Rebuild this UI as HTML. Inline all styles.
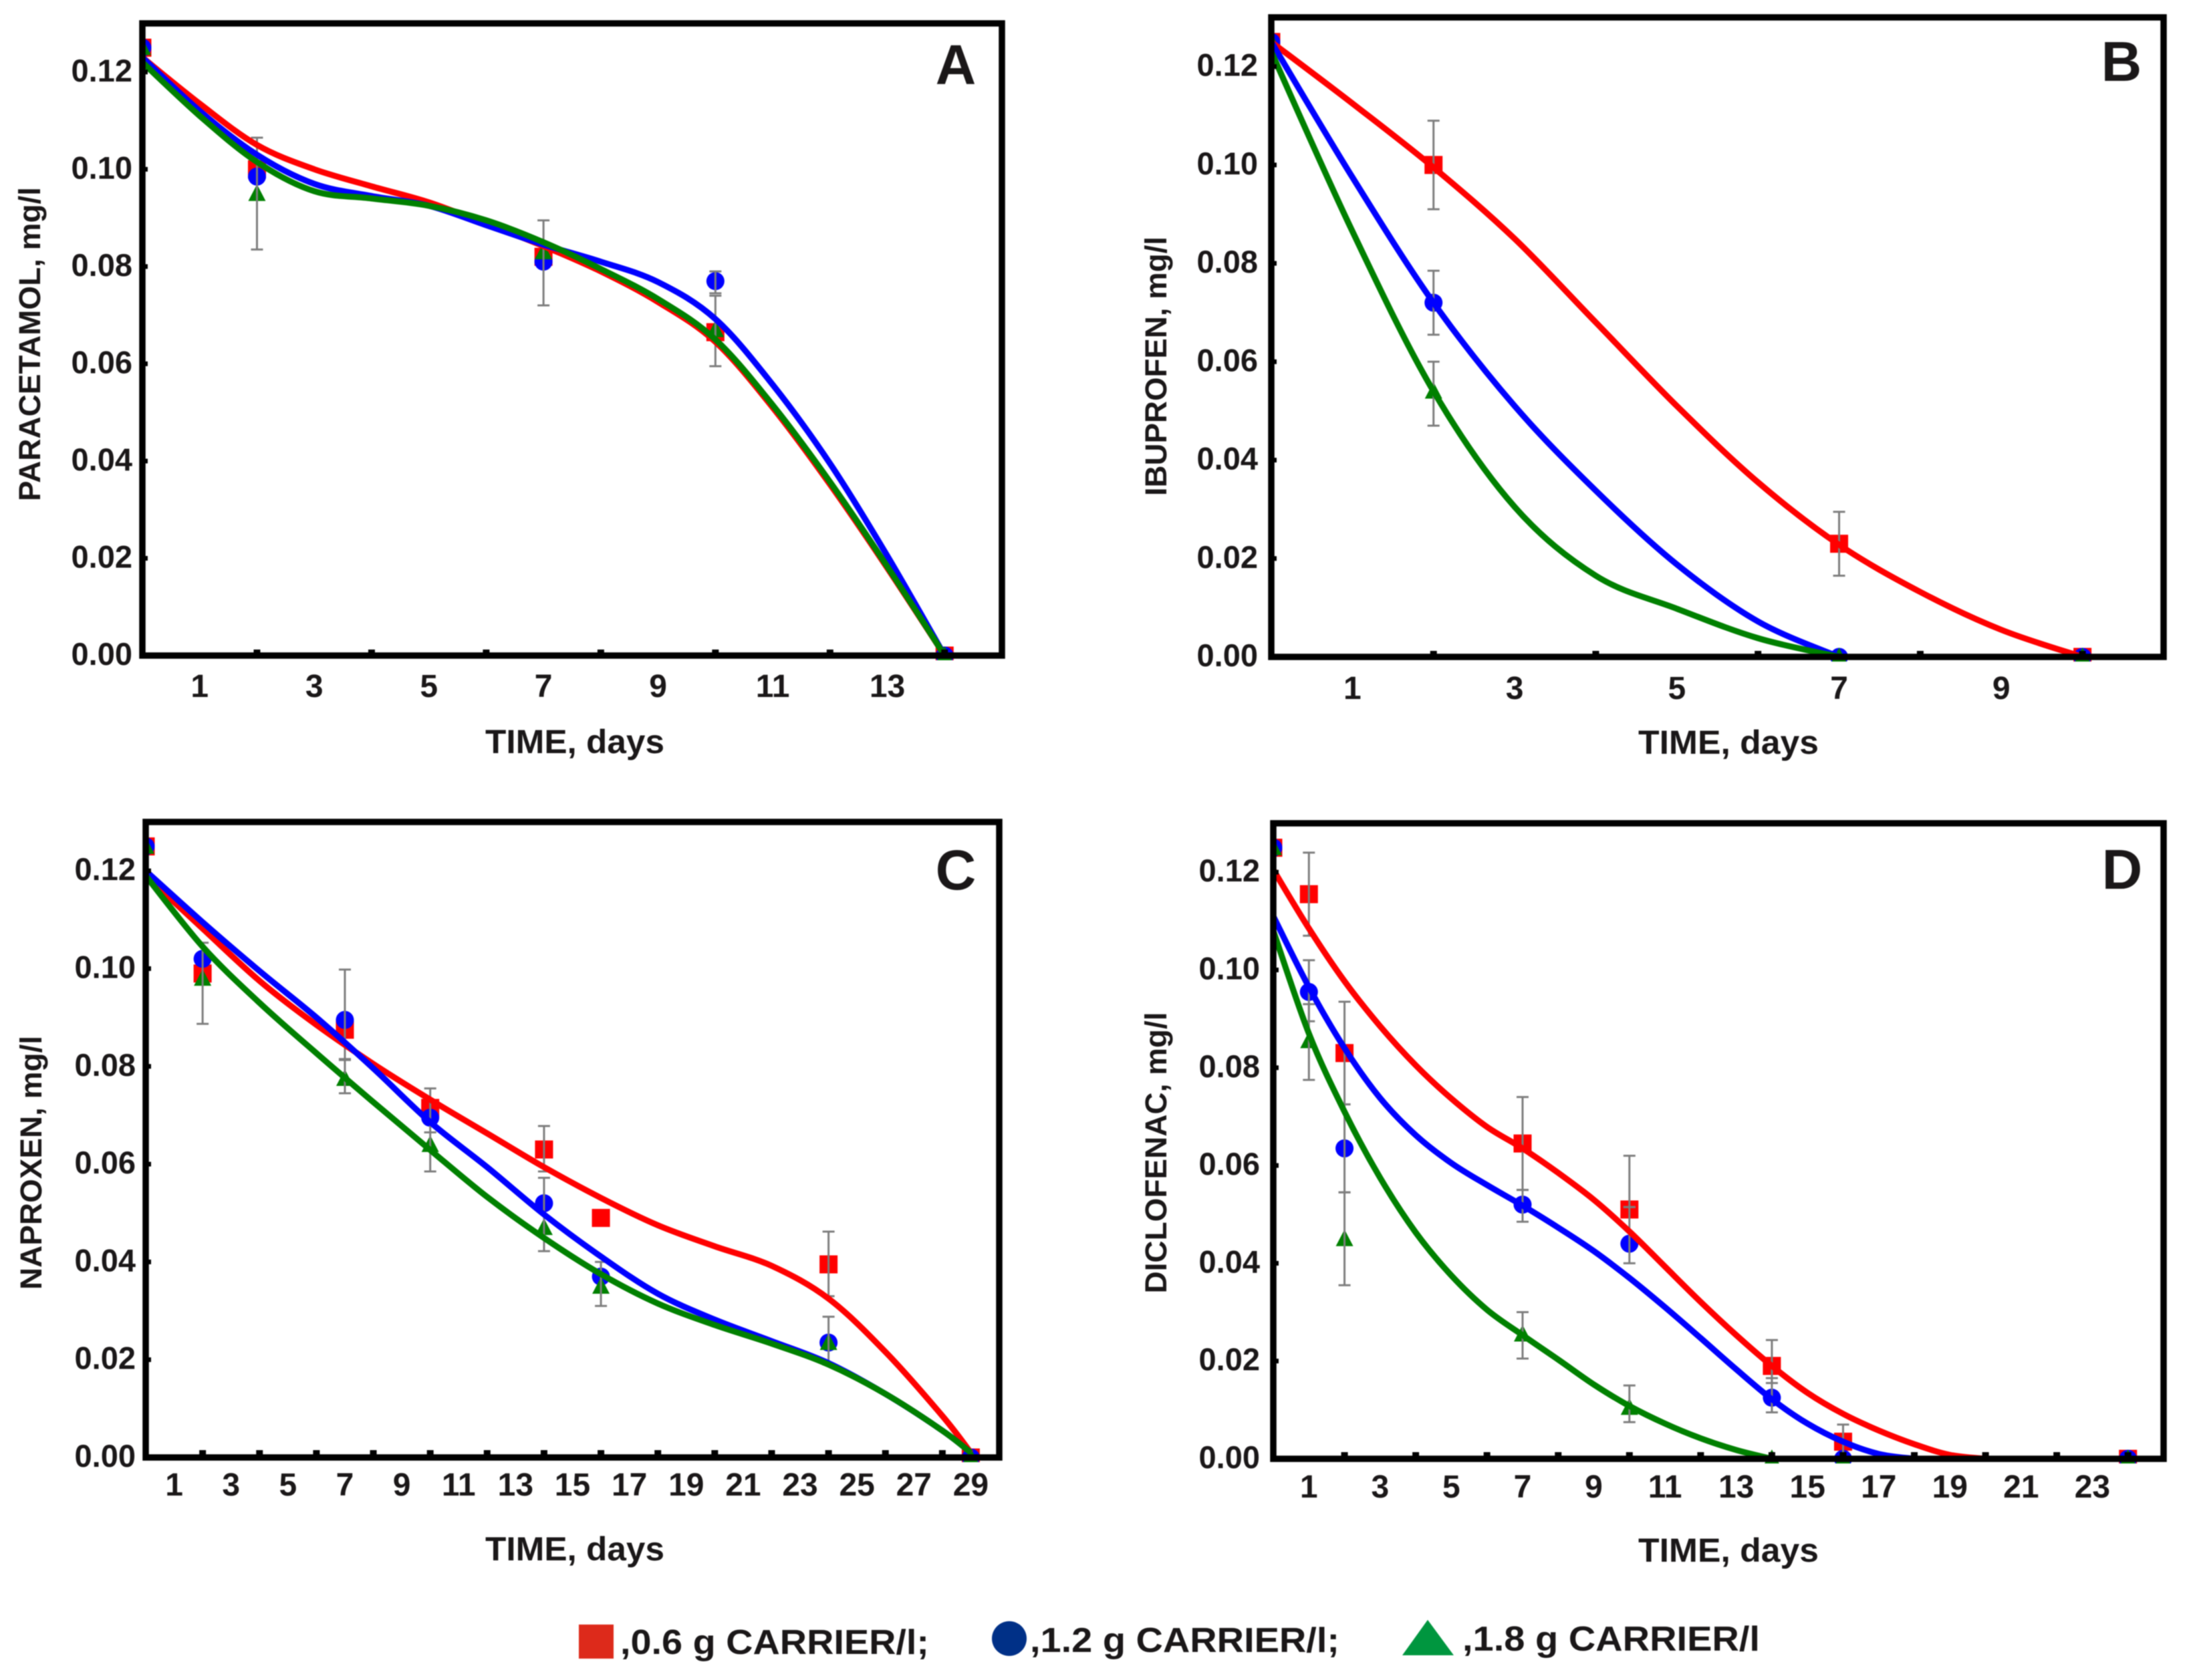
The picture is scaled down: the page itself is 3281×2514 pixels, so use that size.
<!DOCTYPE html>
<html lang="en">
<head>
<meta charset="utf-8">
<title>Concentration over time for four drugs</title>
<style>
html,body{margin:0;padding:0;background:#fff;}
svg{display:block;filter:blur(0.7px);}
text{font-family:"Liberation Sans",Arial,sans-serif;font-weight:bold;fill:#1a1718;}
</style>
</head>
<body>
<svg id="figure" xmlns="http://www.w3.org/2000/svg" width="3281" height="2514" viewBox="0 0 3281 2514">
  <rect x="0" y="0" width="3281" height="2514" fill="#ffffff"/>
  <g id="panel-a"></g>
  <g id="panel-b"></g>
  <g id="panel-c"></g>
  <g id="panel-d"></g>

  <text x="1430" y="126" font-size="84" text-anchor="middle">A</text>
  <text x="3174" y="121" font-size="84" text-anchor="middle">B</text>
  <text x="1430" y="1331" font-size="84" text-anchor="middle">C</text>
  <text x="3175" y="1330" font-size="84" text-anchor="middle">D</text>

  <text x="860" y="1127" font-size="50" text-anchor="middle" textLength="268" lengthAdjust="spacingAndGlyphs">TIME, days</text>
  <text x="2586" y="1128" font-size="50" text-anchor="middle" textLength="270" lengthAdjust="spacingAndGlyphs">TIME, days</text>
  <text x="860" y="2335" font-size="50" text-anchor="middle" textLength="268" lengthAdjust="spacingAndGlyphs">TIME, days</text>
  <text x="2586" y="2337" font-size="50" text-anchor="middle" textLength="270" lengthAdjust="spacingAndGlyphs">TIME, days</text>

  <text transform="translate(60 515) rotate(-90)" font-size="45.5" text-anchor="middle" textLength="470" lengthAdjust="spacingAndGlyphs">PARACETAMOL, mg/l</text>
  <text transform="translate(1745 548) rotate(-90)" font-size="45.5" text-anchor="middle" textLength="388" lengthAdjust="spacingAndGlyphs">IBUPROFEN, mg/l</text>
  <text transform="translate(62 1740) rotate(-90)" font-size="45.5" text-anchor="middle" textLength="380" lengthAdjust="spacingAndGlyphs">NAPROXEN, mg/l</text>
  <text transform="translate(1745 1725) rotate(-90)" font-size="45.5" text-anchor="middle" textLength="421" lengthAdjust="spacingAndGlyphs">DICLOFENAC, mg/l</text>

  <g>
    <rect x="866" y="2431" width="52" height="51" fill="#dd2a1b"/>
    <text x="928" y="2475" font-size="52" textLength="462" lengthAdjust="spacingAndGlyphs">,0.6 g CARRIER/l;</text>
    <ellipse cx="1510" cy="2452" rx="26" ry="26" fill="#003087"/>
    <text x="1541" y="2472" font-size="52" textLength="463" lengthAdjust="spacingAndGlyphs">,1.2 g CARRIER/l;</text>
    <polygon points="2136,2424 2175,2477 2098,2477" fill="#00963f"/>
    <text x="2188" y="2470" font-size="52" textLength="445" lengthAdjust="spacingAndGlyphs">,1.8 g CARRIER/l</text>
  </g>
</svg>

<script>
/* Shared y axis */
const yTickValues = [0, 0.02, 0.04, 0.06, 0.08, 0.10, 0.12];
const yTickLabels = ["0.00", "0.02", "0.04", "0.06", "0.08", "0.10", "0.12"];

/* Panel A: paracetamol */
const aXLabels = [1, 3, 5, 7, 9, 11, 13];
const aXMinor = [2, 4, 6, 8, 10, 12, 14];
const aMarkerDays = [0, 2, 7, 10, 14];
const aRedPoints = [0.125, 0.1, 0.082, 0.0665, 0];
const aBluePoints = [0.125, 0.0985, 0.081, 0.077, 0];
const aGreenPoints = [0.125, 0.095, 0.083, 0.067, 0];
const aCurveDays = [0, 1, 2, 3, 4, 5, 6, 7, 8, 9, 10, 11, 12, 13, 14];
const aRedCurve = [0.123, 0.1135, 0.105, 0.1, 0.0965, 0.0932, 0.0888, 0.0842, 0.079, 0.0727, 0.0645, 0.051, 0.0352, 0.018, 0];
const aBlueCurve = [0.123, 0.112, 0.103, 0.097, 0.0945, 0.0925, 0.0885, 0.0845, 0.081, 0.0768, 0.0692, 0.0557, 0.0395, 0.0205, 0];
const aGreenCurve = [0.122, 0.111, 0.1015, 0.0955, 0.094, 0.0925, 0.0895, 0.085, 0.0795, 0.0733, 0.065, 0.0515, 0.0357, 0.0183, 0];
const aErrDays = [2, 7, 10, 10];
const aErrLow = [0.0835, 0.072, 0.0595, 0.0745];
const aErrHigh = [0.1065, 0.0895, 0.074, 0.079];

/* Panel B: ibuprofen */
const bXLabels = [1, 3, 5, 7, 9];
const bXMinor = [2, 4, 6, 8, 10];
const bRedDays = [0, 2, 7, 10];
const bRedPoints = [0.125, 0.1, 0.023, 0];
const bBlueDays = [0, 2, 7, 10];
const bBluePoints = [0.125, 0.072, 0, 0];
const bGreenDays = [0, 2, 7, 10];
const bGreenPoints = [0.125, 0.054, 0, 0];
const bRedCurveDays = [0, 1, 2, 3, 4, 5, 6, 7, 8, 9, 10];
const bRedCurve = [0.125, 0.1125, 0.0995, 0.085, 0.068, 0.051, 0.0355, 0.0228, 0.0132, 0.0055, 0];
const bBlueCurveDays = [0, 1, 2, 3, 4, 5, 6, 7];
const bBlueCurve = [0.125, 0.0975, 0.072, 0.051, 0.0338, 0.0188, 0.0072, 0];
const bGreenCurveDays = [0, 1, 2, 3, 4, 5, 6, 7];
const bGreenCurve = [0.123, 0.0865, 0.054, 0.0305, 0.0165, 0.0098, 0.0038, 0];
const bErrDays = [2, 2, 2, 7];
const bErrLow = [0.091, 0.0655, 0.047, 0.0165];
const bErrHigh = [0.109, 0.0785, 0.06, 0.0295];

/* Panel C: naproxen */
const cXLabels = [1, 3, 5, 7, 9, 11, 13, 15, 17, 19, 21, 23, 25, 27, 29];
const cXMinor = [2, 4, 6, 8, 10, 12, 14, 16, 18, 20, 22, 24, 26, 28];
const cMarkerDays = [0, 2, 7, 10, 14, 16, 24, 29];
const cRedPoints = [0.125, 0.099, 0.0875, 0.0715, 0.063, 0.049, 0.0395, 0];
const cBluePoints = [0.125, 0.102, 0.0895, 0.0695, 0.052, 0.037, 0.0235, 0];
const cGreenPoints = [0.125, 0.098, 0.0775, 0.064, 0.047, 0.035, 0.0235, 0];
const cCurveDays = [0, 2, 4, 6, 8, 10, 12, 14, 16, 18, 20, 22, 24, 26, 28, 29];
const cRedCurve = [0.119, 0.1082, 0.0975, 0.0885, 0.0805, 0.0732, 0.0663, 0.0594, 0.0531, 0.0475, 0.0432, 0.0392, 0.0325, 0.0216, 0.0085, 0.001];
const cBlueCurve = [0.12, 0.1095, 0.0995, 0.09, 0.0796, 0.0686, 0.0594, 0.0497, 0.0411, 0.0335, 0.0282, 0.0238, 0.0193, 0.013, 0.0055, 0.001];
const cGreenCurve = [0.119, 0.1045, 0.093, 0.0827, 0.0727, 0.0629, 0.0533, 0.0449, 0.0375, 0.0315, 0.0271, 0.0233, 0.019, 0.013, 0.0055, 0.001];
const cErrDays = [2, 7, 7, 10, 10, 14, 14, 16, 24, 24];
const cErrLow = [0.0887, 0.0813, 0.0745, 0.0665, 0.0585, 0.0585, 0.0422, 0.031, 0.033, 0.019];
const cErrHigh = [0.1053, 0.0998, 0.0815, 0.0755, 0.0665, 0.0678, 0.0572, 0.04, 0.0462, 0.0288];

/* Panel D: diclofenac */
const dXLabels = [1, 3, 5, 7, 9, 11, 13, 15, 17, 19, 21, 23];
const dXMinor = [2, 4, 6, 8, 10, 12, 14, 16, 18, 20, 22, 24];
const dMarkerDays = [0, 1, 2, 7, 10, 14, 16, 24];
const dRedPoints = [0.125, 0.1155, 0.083, 0.0645, 0.051, 0.019, 0.0035, 0];
const dBluePoints = [0.125, 0.0955, 0.0635, 0.052, 0.044, 0.0125, 0, 0];
const dGreenPoints = [0.125, 0.0855, 0.045, 0.0255, 0.0105, 0, 0, 0];
const dRedCurveDays = [0, 1, 2, 3, 4, 5, 6, 7, 8, 9, 10, 11, 12, 13, 14, 15, 16, 17, 18, 19, 20];
const dRedCurve = [0.1205, 0.1085, 0.0977, 0.0885, 0.0805, 0.0737, 0.0679, 0.0635, 0.0585, 0.053, 0.0465, 0.0393, 0.0321, 0.0253, 0.019, 0.0135, 0.0092, 0.0058, 0.003, 0.0008, 0];
const dBlueCurveDays = [0, 1, 2, 3, 4, 5, 6, 7, 8, 9, 10, 11, 12, 13, 14, 15, 16, 17, 18];
const dBlueCurve = [0.111, 0.0965, 0.084, 0.0738, 0.0662, 0.0605, 0.056, 0.0518, 0.0473, 0.0425, 0.037, 0.031, 0.0247, 0.0183, 0.0122, 0.0072, 0.0035, 0.001, 0];
const dGreenCurveDays = [0, 1, 2, 3, 4, 5, 6, 7, 8, 9, 10, 11, 12, 13, 14];
const dGreenCurve = [0.108, 0.087, 0.071, 0.0575, 0.0463, 0.0375, 0.0305, 0.0253, 0.0203, 0.0152, 0.0108, 0.0072, 0.0042, 0.0018, 0];
const dErrDays = [1, 1, 1, 2, 2, 2, 7, 7, 7, 10, 10, 10, 14, 14, 16];
const dErrLow = [0.107, 0.0895, 0.0775, 0.0725, 0.0545, 0.0355, 0.055, 0.0485, 0.0205, 0.0515, 0.04, 0.0075, 0.0155, 0.0095, 0];
const dErrHigh = [0.124, 0.102, 0.093, 0.0935, 0.0725, 0.0545, 0.074, 0.055, 0.03, 0.062, 0.0515, 0.015, 0.0243, 0.0165, 0.007];

const SVG_NS = "http://www.w3.org/2000/svg";
const RED = "#ff0000";
const BLUE = "#0000ff";
const GREEN = "#008000";

function make(tag, parent, attrs) {
  const node = document.createElementNS(SVG_NS, tag);
  for (const key in attrs) node.setAttribute(key, attrs[key]);
  parent.appendChild(node);
  return node;
}

function smoothPath(xs, ys) {
  let d = "M" + xs[0].toFixed(1) + " " + ys[0].toFixed(1);
  for (let i = 0; i < xs.length - 1; i++) {
    const i0 = Math.max(i - 1, 0);
    const i3 = Math.min(i + 2, xs.length - 1);
    const c1x = xs[i] + (xs[i + 1] - xs[i0]) / 6;
    const c1y = ys[i] + (ys[i + 1] - ys[i0]) / 6;
    const c2x = xs[i + 1] - (xs[i3] - xs[i]) / 6;
    const c2y = ys[i + 1] - (ys[i3] - ys[i]) / 6;
    d += "C" + c1x.toFixed(1) + " " + c1y.toFixed(1) + " " + c2x.toFixed(1) + " " + c2y.toFixed(1) + " " + xs[i + 1].toFixed(1) + " " + ys[i + 1].toFixed(1);
  }
  return d;
}

function drawPanel(cfg) {
  const root = document.getElementById(cfg.id);
  const xScale = function (v) { return cfg.left + (v / cfg.xMax) * (cfg.right - cfg.left); };
  const yScale = function (v) { return cfg.bottom - (v / 0.13) * (cfg.bottom - cfg.top); };

  const clip = make("clipPath", root, { id: cfg.id + "-clip" });
  make("rect", clip, { x: cfg.left, y: cfg.top, width: cfg.right - cfg.left, height: cfg.bottom - cfg.top + 7 });
  const g = make("g", root, { "clip-path": "url(#" + cfg.id + "-clip)" });
  
  

  /* markers */
  cfg.reds.days.forEach(function (day, i) {
    const size = 27;
    const square = make("rect", g, { x: xScale(day) - size / 2, y: yScale(cfg.reds.values[i]) - size / 2, width: size, height: size, fill: RED });
    
    
  });
  cfg.blues.days.forEach(function (day, i) {
    const dot = make("circle", g, { cx: xScale(day), cy: yScale(cfg.blues.values[i]), r: 13.5, fill: BLUE });
    
    
  });
  cfg.greens.days.forEach(function (day, i) {
    const cx = xScale(day);
    const cy = yScale(cfg.greens.values[i]);
    const points = cx + "," + (cy - 14) + " " + (cx + 13) + "," + (cy + 11) + " " + (cx - 13) + "," + (cy + 11);
    const tri = make("polygon", g, { points: points, fill: GREEN });
    
    
  });

  /* error bars */
  cfg.err.days.forEach(function (day, i) {
    const x = xScale(day);
    const yLow = yScale(cfg.err.low[i]);
    const yHigh = yScale(cfg.err.high[i]);
    const d = "M" + x + " " + yLow + "V" + yHigh + "M" + (x - 9) + " " + yLow + "H" + (x + 9) + "M" + (x - 9) + " " + yHigh + "H" + (x + 9);
    const bar = make("path", g, { d: d, fill: "none", stroke: "#7d7d7d", "stroke-width": 3 });
    
    
  });

  /* fitted curves */
  cfg.curves.forEach(function (curve) {
    const xs = curve.days.map(xScale);
    const ys = curve.values.map(yScale);
    const line = make("path", g, { d: smoothPath(xs, ys), fill: "none", stroke: curve.color, "stroke-width": 9, "stroke-linejoin": "round" });
    
    
  });

  /* inner ticks */
  cfg.xMinor.forEach(function (v) {
    const tick = make("rect", root, { x: xScale(v) - 5, y: cfg.bottom - cfg.tickRise, width: 10, height: cfg.tickRise, fill: "#000" });
    
    
  });
  yTickValues.forEach(function (v) {
    const tick = make("rect", root, { x: cfg.left, y: yScale(v) - 3.5, width: 8, height: 7, fill: "#000" });
    
    
  });

  /* frame */
  const frame = make("rect", root, { x: cfg.left, y: cfg.top, width: cfg.right - cfg.left, height: cfg.bottom - cfg.top, fill: "none", stroke: "#000", "stroke-width": 9.5 });
  
  

  /* tick labels */
  cfg.xLabels.forEach(function (v) {
    const label = make("text", root, { x: xScale(v), y: cfg.xLabelY, "font-size": 48, "text-anchor": "middle" });
    label.textContent = String(v);
    
    
  });
  yTickValues.forEach(function (v, i) {
    const label = make("text", root, { x: cfg.left - cfg.labelGap, y: yScale(v) + 14, "font-size": 47, "text-anchor": "end" });
    label.textContent = yTickLabels[i];
    
    
  });
}

drawPanel({
  id: "panel-a", left: 213, right: 1499, top: 35, bottom: 981, xMax: 15, xLabelY: 1043, labelGap: 15, tickRise: 9,
  xLabels: aXLabels, xMinor: aXMinor,
  reds: { days: aMarkerDays, values: aRedPoints },
  blues: { days: aMarkerDays, values: aBluePoints },
  greens: { days: aMarkerDays, values: aGreenPoints },
  err: { days: aErrDays, low: aErrLow, high: aErrHigh },
  curves: [
    { name: "curve-0-6g", color: RED, days: aCurveDays, values: aRedCurve },
    { name: "curve-1-2g", color: BLUE, days: aCurveDays, values: aBlueCurve },
    { name: "curve-1-8g", color: GREEN, days: aCurveDays, values: aGreenCurve }
  ]
});

drawPanel({
  id: "panel-b", left: 1902, right: 3237, top: 26, bottom: 983, xMax: 11, xLabelY: 1046, labelGap: 20, tickRise: 9,
  xLabels: bXLabels, xMinor: bXMinor,
  reds: { days: bRedDays, values: bRedPoints },
  blues: { days: bBlueDays, values: bBluePoints },
  greens: { days: bGreenDays, values: bGreenPoints },
  err: { days: bErrDays, low: bErrLow, high: bErrHigh },
  curves: [
    { name: "curve-0-6g", color: RED, days: bRedCurveDays, values: bRedCurve },
    { name: "curve-1-2g", color: BLUE, days: bBlueCurveDays, values: bBlueCurve },
    { name: "curve-1-8g", color: GREEN, days: bGreenCurveDays, values: bGreenCurve }
  ]
});

drawPanel({
  id: "panel-c", left: 218, right: 1495, top: 1230, bottom: 2181, xMax: 30, xLabelY: 2238, labelGap: 15, tickRise: 11,
  xLabels: cXLabels, xMinor: cXMinor,
  reds: { days: cMarkerDays, values: cRedPoints },
  blues: { days: cMarkerDays, values: cBluePoints },
  greens: { days: cMarkerDays, values: cGreenPoints },
  err: { days: cErrDays, low: cErrLow, high: cErrHigh },
  curves: [
    { name: "curve-0-6g", color: RED, days: cCurveDays, values: cRedCurve },
    { name: "curve-1-2g", color: BLUE, days: cCurveDays, values: cBlueCurve },
    { name: "curve-1-8g", color: GREEN, days: cCurveDays, values: cGreenCurve }
  ]
});

drawPanel({
  id: "panel-d", left: 1905, right: 3237, top: 1232, bottom: 2183, xMax: 25, xLabelY: 2241, labelGap: 20, tickRise: 10,
  xLabels: dXLabels, xMinor: dXMinor,
  reds: { days: dMarkerDays, values: dRedPoints },
  blues: { days: dMarkerDays, values: dBluePoints },
  greens: { days: dMarkerDays, values: dGreenPoints },
  err: { days: dErrDays, low: dErrLow, high: dErrHigh },
  curves: [
    { name: "curve-0-6g", color: RED, days: dRedCurveDays, values: dRedCurve },
    { name: "curve-1-2g", color: BLUE, days: dBlueCurveDays, values: dBlueCurve },
    { name: "curve-1-8g", color: GREEN, days: dGreenCurveDays, values: dGreenCurve }
  ]
});
</script>
</body>
</html>
